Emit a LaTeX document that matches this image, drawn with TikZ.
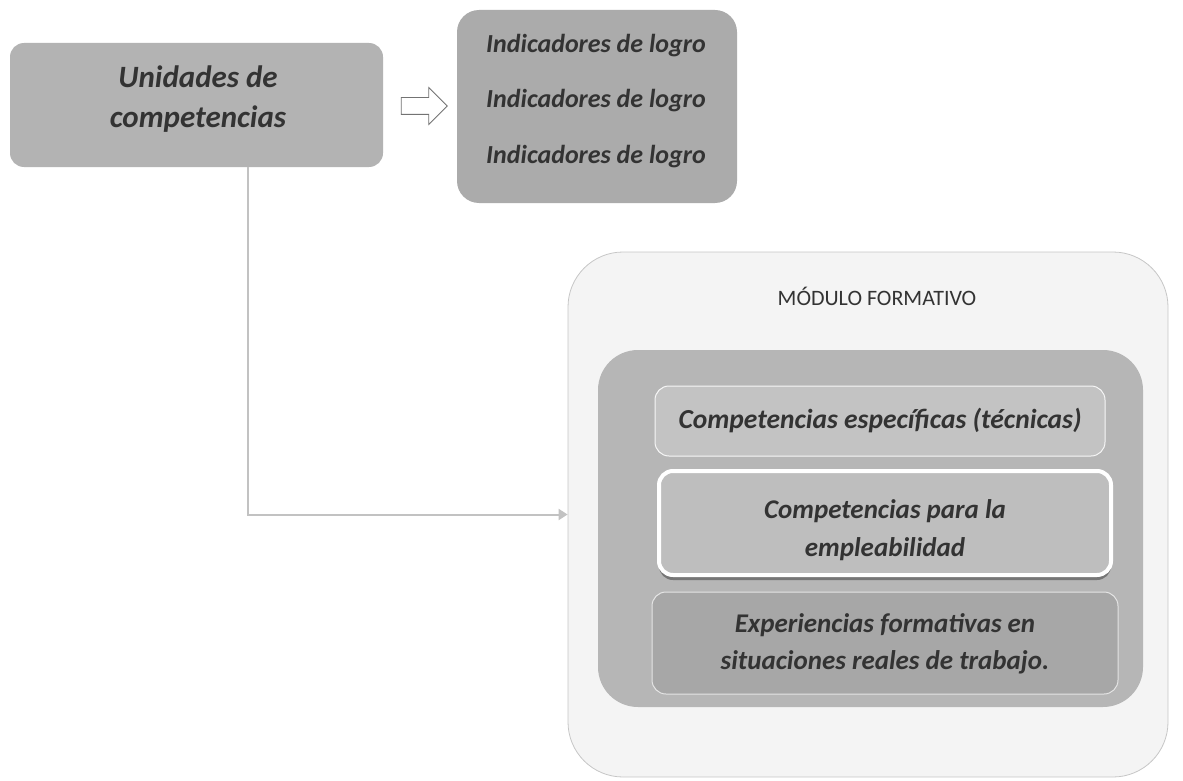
\documentclass[tikz,border=0pt]{standalone}
\usepackage{fontspec}
\setmainfont{Carlito}
\usetikzlibrary{arrows.meta,shapes.arrows,shadows}

\definecolor{grisUnidad}{HTML}{B3B3B3}
\definecolor{grisIndic}{HTML}{ABABAB}
\definecolor{grisFondo}{HTML}{F4F4F4}
\definecolor{grisBorde}{HTML}{C6C6C6}
\definecolor{grisNucleo}{HTML}{B6B6B6}
\definecolor{grisTecn}{HTML}{C3C3C3}
\definecolor{grisEmpl}{HTML}{BEBEBE}
\definecolor{grisExp}{HTML}{A7A7A7}
\definecolor{grisTexto}{HTML}{333333}
\definecolor{grisLinea}{HTML}{C2C2C2}

\tikzset{
  caja/.style={rounded corners=14pt, inner sep=0pt},
  rotulo/.style={font=\bfseries\itshape\fontsize{26}{30}\selectfont, text=grisTexto, anchor=base},
  enlace/.style={draw=grisLinea, line width=2pt, -{Triangle[length=9pt,width=11pt]}},
}

\begin{document}
\begin{tikzpicture}[x=1pt,y=-1pt]
\useasboundingbox (0,0) rectangle (1183,781);

% Unidades de competencias
\node[caja, fill=grisUnidad, minimum width=373pt, minimum height=124pt] (unidades) at (196.5,105) {};
\node[rotulo, font=\bfseries\itshape\fontsize{31}{35}\selectfont] (unid1) at (198,88) {Unidades de};
\node[rotulo, font=\bfseries\itshape\fontsize{31}{35}\selectfont] (unid2) at (198,128) {competencias};

% Indicadores de logro
\node[caja, fill=grisIndic, rounded corners=22pt, minimum width=280pt, minimum height=193pt] (indic) at (597,106.5) {};
\node[rotulo] (logro1) at (596,53) {Indicadores de logro};
\node[rotulo] (logro2) at (596,108) {Indicadores de logro};
\node[rotulo] (logro3) at (596,163) {Indicadores de logro};

% Flecha de bloque
\node[single arrow, draw=black!55, fill=white, line width=0.8pt, inner sep=8pt,
      single arrow head extend=10pt, minimum height=46pt] (flecha) at (420,106) {};

% Modulo formativo
\node[caja, draw=grisBorde, fill=grisFondo, rounded corners=55pt, line width=0.8pt,
      minimum width=600pt, minimum height=525pt] (modulo) at (868,514.5) {};
\node[font=\fontsize{22}{26}\selectfont, text=grisTexto, anchor=base] (titulo) at (877,305) {MÓDULO FORMATIVO};
\node[caja, fill=grisNucleo, rounded corners=40pt, minimum width=545pt, minimum height=357pt] (nucleo) at (870.5,528.5) {};

% Bloques internos
\node[caja, draw=white!85!grisTecn, fill=grisTecn, line width=1pt, minimum width=450pt, minimum height=70pt] (tecnicas) at (880,421) {};
\node[rotulo, font=\bfseries\itshape\fontsize{27.5}{30}\selectfont] (tecn1) at (880,428) {Competencias específicas (técnicas)};

\node[caja, draw=white, fill=grisEmpl, line width=4pt, minimum width=452pt, minimum height=104pt,
      drop shadow={shadow xshift=0pt, shadow yshift=-5pt, fill=black!60, opacity=0.8}] (empleab) at (885,523) {};
\node[rotulo, font=\bfseries\itshape\fontsize{27}{30}\selectfont] (empl1) at (885,518) {Competencias para la};
\node[rotulo, font=\bfseries\itshape\fontsize{27}{30}\selectfont] (empl2) at (885,556) {empleabilidad};

\node[caja, draw=white!70!grisExp, fill=grisExp, line width=1pt, minimum width=466pt, minimum height=102pt] (experiencias) at (885,643) {};
\node[rotulo, font=\bfseries\itshape\fontsize{27}{30}\selectfont] (exp1) at (885,632) {Experiencias formativas en};
\node[rotulo, font=\bfseries\itshape\fontsize{27}{30}\selectfont] (exp2) at (885,669) {situaciones reales de trabajo.};

% Conector
\draw[enlace] ([xshift=51pt]unidades.south) |- (modulo.west);
\end{tikzpicture}
\end{document}
